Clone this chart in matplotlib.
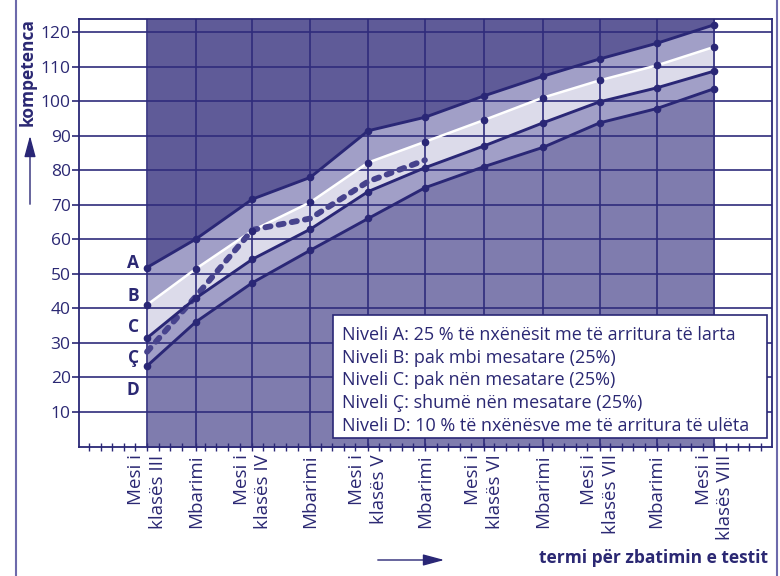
import matplotlib.pyplot as plt
from matplotlib.patches import Rectangle

plt.rcParams['font.family'] = ['Open Sans', 'DejaVu Sans']

navy = '#2a2776'
txt_c = '#2b2873'

# time axis positions (one unit ~ one month) and labels
x_pos = [0, 4.2, 9.1, 14.1, 19.1, 24, 29.1, 34.2, 39.1, 44, 49]
x_labels = ['Mesi i\nklasës III', 'Mbarimi', 'Mesi i\nklasës IV', 'Mbarimi',
            'Mesi i\nklasës V', 'Mbarimi', 'Mesi i\nklasës VI', 'Mbarimi',
            'Mesi i\nklasës VII', 'Mbarimi', 'Mesi i\nklasës VIII']

# boundaries between levels
level_a = [51.8, 60.0, 71.6, 77.9, 91.4, 95.3, 101.5, 107.2, 112.2, 116.7, 122.1]
level_b = [41.0, 51.4, 62.5, 70.7, 82.2, 88.2, 94.5, 101.0, 106.0, 110.3, 115.7]
level_c = [31.4, 42.9, 54.2, 62.9, 73.8, 80.7, 87.0, 93.7, 99.8, 103.8, 108.7]
level_d = [23.3, 36.0, 47.4, 56.8, 66.0, 74.9, 81.0, 86.6, 93.7, 97.8, 103.6]

# pupil's results (dashed)
trend_x = x_pos[:6]
trend = [27.4, 43.4, 62.7, 66.0, 76.7, 82.9]

y_ticks = list(range(10, 121, 10))
band_names = ['A', 'B', 'C', 'Ç', 'D']
band_y = [53.1, 43.6, 34.6, 25.6, 16.4]

legend_lines = ['Niveli A: 25 % të nxënësit me të arritura të larta',
                'Niveli B: pak mbi mesatare (25%)',
                'Niveli C: pak nën mesatare (25%)',
                'Niveli Ç: shumë nën mesatare (25%)',
                'Niveli D: 10 % të nxënësve me të arritura të ulëta']

fig = plt.figure(figsize=(7.8, 5.76), dpi=100)
ax = fig.add_axes([0.1013, 0.2231, 0.8885, 0.7439])
ybot, ytop = -0.3, 123.75
ax.set_xlim(-5.87, 53.97)
ax.set_ylim(ybot, ytop)

ax.fill_between(x_pos, level_a, ytop, color='#5f5b98', lw=0, zorder=1)
ax.fill_between(x_pos, level_b, level_a, color='#a19fc7', lw=0, zorder=1)
ax.fill_between(x_pos, level_c, level_b, color='#dcdbea', lw=0, zorder=1)
ax.fill_between(x_pos, level_d, level_c, color='#a19fc7', lw=0, zorder=1)
ax.fill_between(x_pos, ybot, level_d, color='#7f7cae', lw=0, zorder=1)

for y in y_ticks:
    ax.axhline(y, color='#2f2c7c', lw=1.2, zorder=2)
for x in x_pos:
    ax.axvline(x, color='#2f2c7c', lw=1.2, zorder=2)

ax.plot(x_pos, level_b, color='white', lw=1.8, zorder=3)
ax.plot(trend_x, trend, color='#47438d', lw=4.2, ls=(0, (0.9, 1.4)),
        dash_capstyle='round', zorder=4)
for vals in [level_a, level_c, level_d]:
    ax.plot(x_pos, vals, color=navy, lw=2.1, marker='o', ms=4.5, zorder=5)
ax.plot(x_pos, level_b, 'o', color=navy, ms=4.5, zorder=5)

for name, y in zip(band_names, band_y):
    ax.text(-1.2, y, name, ha='center', va='center', fontweight='bold',
            fontsize=12.5, color=txt_c)

ax.set_yticks(y_ticks)
ax.tick_params(axis='y', direction='out', length=5, width=1.2, color=navy,
               labelsize=12.5, labelcolor=txt_c, pad=1)
ax.set_xticks(x_pos)
ax.set_xticklabels(x_labels, rotation=90, va='top', ha='center',
                   multialignment='right', linespacing=1.25,
                   fontsize=13.5, color=txt_c)
minor = [m for m in range(-5, 54) if min(abs(m - p) for p in x_pos) > 0.5]
ax.set_xticks(minor, minor=True)
ax.tick_params(axis='x', which='both', direction='inout', length=6, width=1,
               color=navy, pad=2)
for s in ax.spines.values():
    s.set_color(navy)
    s.set_linewidth(1.3)
    s.set_zorder(6)

# legend box
ax.add_patch(Rectangle((0.3665, 0.0222), 0.6263, 0.287, transform=ax.transAxes,
                       facecolor='white', edgecolor=navy, lw=1.2, zorder=7))
for line, y in zip(legend_lines, [0.2509, 0.1979, 0.1452, 0.0922, 0.0392]):
    ax.text(0.3795, y, line, transform=ax.transAxes, va='baseline', ha='left',
            fontsize=13, color=txt_c, zorder=8)

# axis titles with arrows
fig.text(28 / 780, 1 - 72 / 576, 'kompetenca', rotation=90, ha='center',
         va='center', fontweight='bold', fontsize=12.5, color=txt_c)
fig.text(768 / 780, 1 - 558 / 576, 'termi për zbatimin e testit', ha='right',
         va='center', fontweight='bold', fontsize=12.5, color=txt_c)
ax.annotate('', xy=(30, 576 - 133), xytext=(30, 576 - 207),
            xycoords='figure pixels', textcoords='figure pixels',
            arrowprops=dict(arrowstyle='-|>,head_length=1.3,head_width=0.35',
                            color=navy, lw=1))
ax.annotate('', xy=(447, 576 - 560), xytext=(375, 576 - 560),
            xycoords='figure pixels', textcoords='figure pixels',
            arrowprops=dict(arrowstyle='-|>,head_length=1.3,head_width=0.35',
                            color=navy, lw=1))

# outer frame
fig.add_artist(Rectangle((16 / 780, -0.05), (777 - 16) / 780, 1.05 + 1 - 7.5 / 576,
                         transform=fig.transFigure, fill=False,
                         edgecolor='#6d6aab', lw=1.5))

fig.savefig('out.png', dpi=100)
